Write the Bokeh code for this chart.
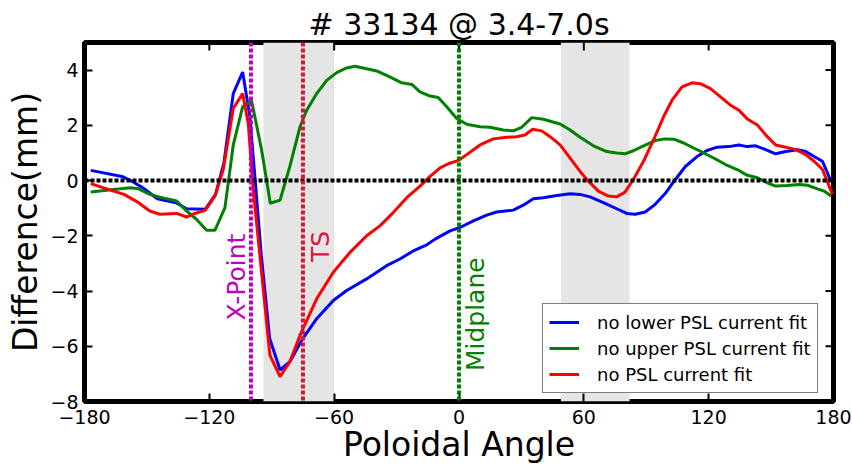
import math

from bokeh.core.properties import value
from bokeh.embed import file_html
from bokeh.models import (BoxAnnotation, ColumnDataSource, FixedTicker,
                          Range1d, Span)
from bokeh.plotting import figure
from bokeh.resources import INLINE

FONT = "DejaVu Sans"

# Poloidal angle (deg) and flux-surface difference (mm) for each fit variant
lower_x = [-177, -162, -158, -152, -145, -136, -131, -122, -117, -113, -108.5,
           -104, -100.5, -98, -95, -91, -86, -81.3, -75.6, -68.4, -60.4, -54,
           -44.4, -34.8, -28.4, -22, -16, -11.5, -4.3, 0.5, 6.9, 13.3, 18.1,
           26.1, 30.9, 35.7, 40.5, 47, 53.4, 58.2, 63, 69.4, 75.8, 80.6, 84.7,
           89.5, 94.3, 99.1, 104, 108.8, 114.4, 119.2, 124.1, 129.7, 134.5,
           138.6, 142.6, 147.4, 152.2, 157, 162.6, 166.7, 170.7, 174.7, 177.1,
           178.6]
lower_y = [0.37, 0.15, 0.01, -0.26, -0.66, -0.80, -1.02, -1.04, -0.50, 0.64,
           3.15, 3.93, 2.31, 0.04, -2.72, -5.72, -6.86, -6.56, -5.78, -5.0,
           -4.34, -3.98, -3.56, -3.08, -2.84, -2.55, -2.35, -2.12, -1.82,
           -1.70, -1.46, -1.25, -1.14, -1.07, -0.89, -0.66, -0.62, -0.54,
           -0.48, -0.50, -0.59, -0.80, -1.02, -1.19, -1.22, -1.14, -0.86,
           -0.47, 0.04, 0.51, 0.87, 1.09, 1.21, 1.23, 1.29, 1.23, 1.26, 1.12,
           0.97, 1.05, 1.12, 1.05, 0.87, 0.70, 0.28, -0.02]

upper_x = [-177, -166, -158, -154, -148.6, -143.8, -135.7, -131, -126.2,
           -121.3, -117.3, -112.5, -108.5, -104, -99.7, -94.9, -90.7, -86,
           -81.3, -76.4, -73.2, -68.4, -63.6, -58.8, -54, -50, -44.4, -39.6,
           -34.8, -31.6, -27.5, -22.7, -18.75, -13.9, -10, -5.9, -1.1, 3.7,
           10.1, 14.9, 21.3, 26.1, 30.1, 35, 40.5, 48.6, 53.4, 58.2, 64.6, 71,
           75.8, 79.8, 83.8, 88.7, 94.3, 99.1, 103.2, 108, 112.8, 117.6, 123.3,
           128.1, 133.7, 138.6, 143.4, 148.2, 152.2, 157.8, 163.5, 167.5,
           172.3, 175.5, 178.8]
upper_y = [-0.41, -0.32, -0.26, -0.30, -0.5, -0.6, -0.74, -1.1, -1.40, -1.80,
           -1.80, -0.98, 1.29, 2.67, 2.89, 1.12, -0.82, -0.71, 0.51, 1.95,
           2.55, 3.15, 3.63, 3.91, 4.08, 4.14, 4.05, 3.97, 3.81, 3.69, 3.54,
           3.48, 3.21, 3.06, 3.01, 2.67, 2.25, 2.04, 1.95, 1.93, 1.83, 1.80,
           1.93, 2.28, 2.22, 2.05, 1.83, 1.57, 1.26, 1.05, 1.0, 0.97, 1.08,
           1.26, 1.45, 1.51, 1.50, 1.36, 1.18, 1.0, 0.78, 0.58, 0.40, 0.19,
           0.10, -0.08, -0.20, -0.18, -0.14, -0.17, -0.30, -0.38, -0.56]

nopsl_x = [-177, -166, -161, -154, -148.6, -143.8, -135.7, -131, -127, -122,
           -117.3, -113.3, -108.5, -104, -101.3, -98.9, -94.9, -90.9, -86,
           -81.3, -76.4, -68.4, -60.4, -52.4, -44.4, -38, -31.6, -25.1, -18.75,
           -13.9, -9.1, -5.1, -0.3, 3.7, 10.1, 16.5, 22.9, 27.7, 31.7, 35.4,
           39.8, 43.8, 48.6, 53.4, 58.2, 62.2, 67, 71.8, 75.8, 79.8, 83.8,
           88.7, 93.5, 98.3, 102.4, 107.2, 112, 116, 120.9, 125.7, 130.5,
           134.5, 138.6, 143.4, 148.2, 152.2, 157, 161.9, 166.7, 170.7, 174.7,
           177.9, 179.5]
nopsl_y = [-0.11, -0.38, -0.5, -0.8, -1.1, -1.22, -1.19, -1.32, -1.19, -1.08,
           -0.56, 0.4, 2.61, 3.15, 2.07, -0.32, -3.32, -6.32, -7.1, -6.56,
           -5.6, -4.28, -3.32, -2.6, -2.0, -1.64, -1.16, -0.62, -0.2, 0.15,
           0.46, 0.61, 0.73, 0.94, 1.29, 1.51, 1.57, 1.59, 1.65, 1.86, 1.80,
           1.59, 1.29, 0.81, 0.33, -0.02, -0.38, -0.56, -0.59, -0.42, 0.04,
           0.70, 1.47, 2.31, 2.91, 3.39, 3.54, 3.51, 3.33, 3.03, 2.73, 2.55,
           2.23, 2.01, 1.59, 1.29, 1.21, 1.12, 0.94, 0.70, 0.40, -0.2, -0.5]

series_names = ["no lower PSL current fit", "no upper PSL current fit",
                "no PSL current fit"]
series_colors = ["#0000ff", "#008000", "#ff0000"]

# Shaded angular windows (deg)
band_left = [-94, 49]
band_right = [-60, 82]

# Reference angles (deg) with their labels
marker_angle = [-100, -75, 0]
marker_color = ["#bf00bf", "#dc143c", "#008000"]
label_x = [-107, -66.5, 8]
label_y = [-5.07, -2.95, -6.9]
label_text = ["X-Point", "TS", "Midplane"]

x_min, x_max = -180, 180
y_min, y_max = -8, 5
x_ticks = [-180, -120, -60, 0, 60, 120, 180]
y_ticks = [-8, -6, -4, -2, 0, 2, 4]


def tick_text(t):
    return str(t).replace("-", "\u2212")


p = figure(width=852, height=466, output_backend="svg", toolbar_location=None,
           x_range=Range1d(x_min, x_max), y_range=Range1d(y_min, y_max),
           min_border_left=84, min_border_right=19, min_border_top=42,
           min_border_bottom=63, title="# 33134 @ 3.4-7.0s")
p.background_fill_color = "white"
p.border_fill_color = "white"
p.outline_line_color = "black"
p.outline_line_width = 5
p.xgrid.visible = False
p.ygrid.visible = False

p.title.align = "center"
p.title.text_font = FONT
p.title.text_font_size = "30px"
p.title.text_font_style = "normal"
p.title.text_color = "black"
p.title.standoff = 2

for ax, ticks in ((p.xaxis[0], x_ticks), (p.yaxis[0], y_ticks)):
    ax.ticker = FixedTicker(ticks=ticks)
    ax.axis_line_color = None
    ax.major_tick_in = 8
    ax.major_tick_out = 0
    ax.major_tick_line_width = 2
    ax.major_tick_line_color = "black"
    ax.minor_tick_line_color = None
    ax.major_label_overrides = {t: tick_text(t) for t in ticks}
    ax.major_label_text_font = FONT
    ax.major_label_text_font_size = "19px"
    ax.major_label_text_color = "black"
    ax.axis_label_text_font = FONT
    ax.axis_label_text_font_size = "33px"
    ax.axis_label_text_font_style = "normal"
    ax.axis_label_text_color = "black"

p.xaxis.axis_label = "Poloidal Angle"
p.yaxis.axis_label = "Difference(mm)"
p.xaxis.major_label_standoff = 8
p.yaxis.major_label_standoff = 6
p.xaxis.axis_label_standoff = -2
p.yaxis.axis_label_standoff = 2

# Mirrored inward ticks on the top and right edges of the frame
p.ray(x=x_ticks, y=[y_max] * len(x_ticks), length=8, length_units="screen",
      angle=-math.pi / 2, line_color="black", line_width=2)
p.ray(x=[x_max] * len(y_ticks), y=y_ticks, length=8, length_units="screen",
      angle=math.pi, line_color="black", line_width=2)

for lo, hi in zip(band_left, band_right):
    p.add_layout(BoxAnnotation(left=lo, right=hi, fill_color="#e5e5e5",
                               fill_alpha=1.0, line_color=None,
                               level="underlay"))

for xs, ys, name, color in zip([lower_x, upper_x, nopsl_x],
                               [lower_y, upper_y, nopsl_y],
                               series_names, series_colors):
    p.line(xs, ys, line_color=color, line_width=3, legend_label=name)

p.add_layout(Span(location=0, dimension="width", line_color="black",
                  line_width=4, line_dash="4 2"))
for ang, col in zip(marker_angle, marker_color):
    p.add_layout(Span(location=ang, dimension="height", line_color=col,
                      line_width=4, line_dash="4 2"))

labels = ColumnDataSource(dict(x=label_x, y=label_y, text=label_text,
                               color=marker_color))
p.text(x="x", y="y", text="text", text_color="color", source=labels,
       angle=math.pi / 2, text_font=value(FONT), text_font_size="25px",
       text_align="left", text_baseline="alphabetic")

leg = p.legend[0]
leg.location = (458, 8)
leg.label_text_font = FONT
leg.label_text_font_size = "18px"
leg.label_text_color = "black"
leg.glyph_width = 30
leg.glyph_height = 24
leg.label_height = 24
leg.label_standoff = 18
leg.padding = 6
leg.spacing = 2
leg.margin = 0
leg.border_line_color = "black"
leg.border_line_width = 1
leg.background_fill_color = "white"
leg.background_fill_alpha = 1.0

open("out.html", "w").write(file_html(p, INLINE))
